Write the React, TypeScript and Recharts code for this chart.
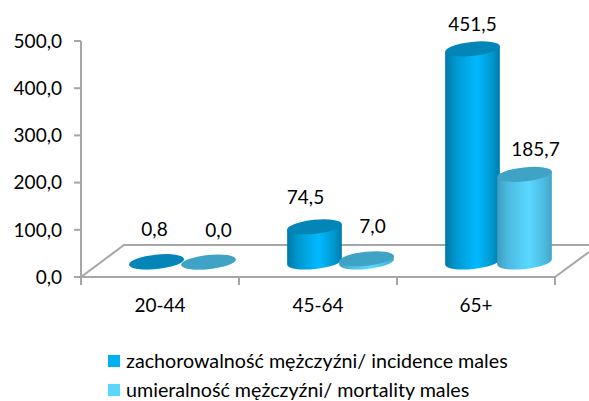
import React from 'react';
import { BarChart, Bar, XAxis, YAxis, Legend, LabelList } from 'recharts';

const categories = ['20-44', '45-64', '65+'];
const incidence = [0.8, 74.5, 451.5];
const mortality = [0.0, 7.0, 185.7];
const yTicks = [0, 100, 200, 300, 400, 500];
const seriesNames = ['zachorowalność mężczyźni/ incidence males', 'umieralność mężczyźni/ mortality males'];

const data = categories.map((group, i) => ({ group, incidence: incidence[i], mortality: mortality[i] }));

const WIDTH = 589;
const HEIGHT = 401;
const LEFT = 81;
const TOP = 41;
const RIGHT = 555;
const BOTTOM = 277;
const BAND = (RIGHT - LEFT) / categories.length;

// fake 3D: the cylinders sit on the floor, up and to the right of the axis
const DEPTH_X = 22;
const DEPTH_Y = 15;
const TILT = -6;
const RY = 7;

const GREY = '#A6A6A6';
const FONT = 'Lato, sans-serif';
const TEXT = '#000';

// Excel placed these labels by hand-ish, offsets from the top of each cylinder
const incidenceNudge = [[-2, -33], [-9, -30], [0, -25]];
const mortalityNudge = [[10, -33], [6, -33], [11, -26]];

const fmt = (v: number) => v.toFixed(1).replace('.', ',');

const Cylinder = (props: any) => {
  const { x, y, width, height, gradient, cap } = props;
  const rx = width / 2;
  const cx = x + rx + DEPTH_X;
  const top = y - DEPTH_Y;
  const bottom = y + height - DEPTH_Y;
  const rad = (TILT * Math.PI) / 180;
  const dx = rx * Math.cos(rad);
  const dy = rx * Math.sin(rad);
  const body = `M${cx - dx},${top - dy} L${cx + dx},${top + dy} L${cx + dx},${bottom + dy} A${rx},${RY} ${TILT} 0 1 ${cx - dx},${bottom - dy} Z`;
  return (
    <g>
      <path d={body} fill={`url(#${gradient})`} />
      <ellipse cx={cx} cy={top} rx={rx} ry={RY} fill={cap} transform={`rotate(${TILT} ${cx} ${top})`} />
    </g>
  );
};

const Floor = () => (
  <g stroke={GREY} strokeWidth={2} fill="none">
    <path d={`M${LEFT},${BOTTOM} L${LEFT + 43},${BOTTOM - 32} L${WIDTH},${BOTTOM - 32}`} />
    <path d={`M${RIGHT},${BOTTOM} L${WIDTH},${BOTTOM - 25}`} />
  </g>
);

const CategoryTick = (props: any) => {
  const { x, payload, index } = props;
  return (
    <g>
      <line x1={x - BAND / 2} x2={x - BAND / 2} y1={BOTTOM} y2={BOTTOM + 8} stroke={GREY} strokeWidth={2} />
      {index === categories.length - 1 && (
        <line x1={x + BAND / 2} x2={x + BAND / 2} y1={BOTTOM} y2={BOTTOM + 8} stroke={GREY} strokeWidth={2} />
      )}
      <text x={x} y={BOTTOM + 27} textAnchor="middle" dominantBaseline="central" fontSize={19} fontFamily={FONT} fill={TEXT}>
        {payload.value}
      </text>
    </g>
  );
};

const makeLabel = (nudge: number[][]) => (props: any) => {
  const { x, y, width, value, index } = props;
  return (
    <text
      x={x + width / 2 + DEPTH_X + nudge[index][0]}
      y={y - DEPTH_Y + nudge[index][1]}
      textAnchor="middle"
      dominantBaseline="central"
      fontSize={19}
      fontFamily={FONT}
      fill={TEXT}
    >
      {fmt(value)}
    </text>
  );
};

const LegendBox = () => (
  <div style={{ fontFamily: FONT, fontSize: 19.7, lineHeight: '24px', color: TEXT, whiteSpace: 'nowrap' }}>
    {seriesNames.map((name, i) => (
      <div key={name} style={{ display: 'flex', alignItems: 'center', height: 29 }}>
        <span style={{ width: 12, height: 12, background: i === 0 ? '#00B0F0' : '#5AD7FF', marginRight: 6 }} />
        {name}
      </div>
    ))}
  </div>
);

export default function App() {
  return (
    <div style={{ position: 'absolute', left: 0, top: 0, width: WIDTH, height: HEIGHT, overflow: 'hidden', background: '#fff' }}>
      <BarChart
        width={WIDTH}
        height={HEIGHT}
        data={data}
        margin={{ top: TOP, right: WIDTH - RIGHT, bottom: 0, left: 0 }}
        barSize={55}
        barGap={-3}
      >
        <defs>
          <linearGradient id="incGrad" x1="0" y1="0" x2="1" y2="0">
            <stop offset="0%" stopColor="#0079A8" />
            <stop offset="20%" stopColor="#0098D0" />
            <stop offset="58%" stopColor="#00BAFF" />
            <stop offset="85%" stopColor="#0098D0" />
            <stop offset="100%" stopColor="#007CAC" />
          </linearGradient>
          <linearGradient id="morGrad" x1="0" y1="0" x2="1" y2="0">
            <stop offset="0%" stopColor="#3E9CBF" />
            <stop offset="20%" stopColor="#4DBBE2" />
            <stop offset="58%" stopColor="#5AD8FF" />
            <stop offset="85%" stopColor="#4DBBE2" />
            <stop offset="100%" stopColor="#42A6C9" />
          </linearGradient>
        </defs>
        <Floor />
        <XAxis
          dataKey="group"
          axisLine={{ stroke: GREY, strokeWidth: 2 }}
          tickLine={false}
          height={HEIGHT - BOTTOM}
          tick={<CategoryTick />}
        />
        <YAxis
          width={LEFT}
          domain={[0, 500]}
          ticks={yTicks}
          tickFormatter={fmt}
          axisLine={{ stroke: GREY, strokeWidth: 2 }}
          tickLine={{ stroke: GREY, strokeWidth: 2 }}
          tickSize={7}
          tickMargin={12}
          tick={{ fontSize: 19, fontFamily: FONT, fill: TEXT }}
        />
        <Legend
          layout="vertical"
          align="center"
          verticalAlign="middle"
          content={<LegendBox />}
          wrapperStyle={{ left: 108, top: 346, width: 440 }}
        />
        <Bar
          dataKey="incidence"
          isAnimationActive={false}
          shape={(p: any) => <Cylinder {...p} gradient="incGrad" cap="#0385B8" />}
        >
          <LabelList dataKey="incidence" content={makeLabel(incidenceNudge)} />
        </Bar>
        <Bar
          dataKey="mortality"
          isAnimationActive={false}
          shape={(p: any) => <Cylinder {...p} gradient="morGrad" cap="#3FA3C6" />}
        >
          <LabelList dataKey="mortality" content={makeLabel(mortalityNudge)} />
        </Bar>
      </BarChart>
    </div>
  );
}
